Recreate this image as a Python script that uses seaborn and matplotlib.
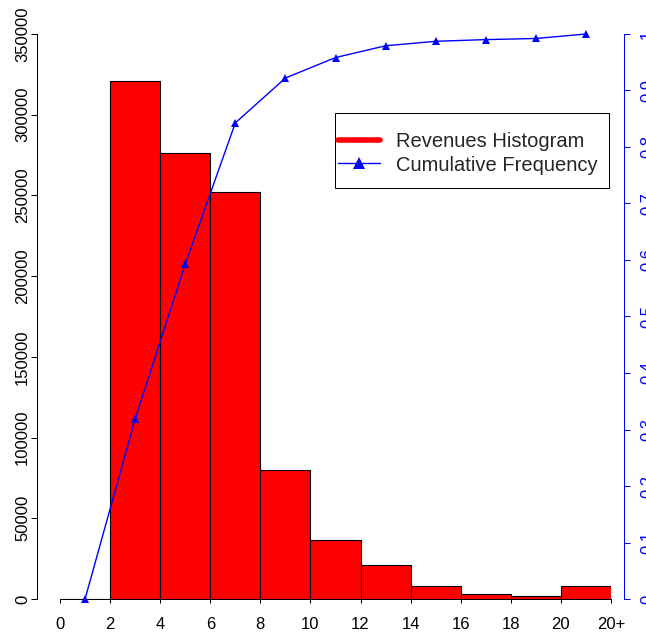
import numpy as np
import pandas as pd
import matplotlib
matplotlib.use("Agg")
import matplotlib.pyplot as plt
import seaborn as sns
from matplotlib.lines import Line2D
from matplotlib.patches import Rectangle

# Revenue totals per 2-unit bin (last bin is the open "20+" bin)
bin_edges = [0, 2, 4, 6, 8, 10, 12, 14, 16, 18, 20, 22]
bin_centers = [1, 3, 5, 7, 9, 11, 13, 15, 17, 19, 21]
revenues = [0, 321000, 276000, 252000, 80000, 36500, 21000, 8000, 3000, 2000, 8000]
x_tick_labels = ["0", "2", "4", "6", "8", "10", "12", "14", "16", "18", "20", "20+"]
left_ticks = [0, 50000, 100000, 150000, 200000, 250000, 300000, 350000]
right_ticks = [0, 0.1, 0.2, 0.3, 0.4, 0.5, 0.6, 0.7, 0.8, 0.9, 1]
right_labels = ["0", "0.1", "0.2", "0.3", "0.4", "0.5", "0.6", "0.7", "0.8", "0.9", "1"]

df = pd.DataFrame({"bin": bin_centers, "revenue": revenues})
df["cumfreq"] = df["revenue"].cumsum() / df["revenue"].sum()

sns.set_style("ticks")
plt.rcParams["font.family"] = ["Liberation Sans", "DejaVu Sans"]

W, H = 646, 636
fig = plt.figure(figsize=(W / 100, H / 100), dpi=100)
px = 72 / 100  # points per pixel

ax = fig.add_axes([60 / W, 37 / H, 551 / W, 565 / H])

sns.histplot(data=df, x="bin", weights="revenue", bins=bin_edges,
             color="#FF0000", edgecolor="black", linewidth=0.8,
             alpha=1, ax=ax)
ax.set_xlim(0, 22)
ax.set_ylim(0, 350000)
ax.set_xlabel("")
ax.set_ylabel("")

ax.set_xticks(bin_edges)
ax.set_xticklabels(x_tick_labels)
ax.set_yticks(left_ticks)
ax.set_yticklabels([str(v) for v in left_ticks])

for side in ("top", "right"):
    ax.spines[side].set_visible(False)
ax.spines["left"].set_position(("outward", 23 * px))
ax.spines["left"].set_bounds(0, 350000)
ax.spines["bottom"].set_bounds(0, 22)
for side in ("left", "bottom"):
    ax.spines[side].set_linewidth(1.0 * px)
    ax.spines[side].set_color("black")

ax.tick_params(axis="x", length=4 * px, width=1.0 * px, pad=14 * px,
               labelsize=12, colors="black")
ax.tick_params(axis="y", length=6 * px, width=1.0 * px, pad=1 * px,
               labelsize=12, colors="black", labelrotation=90)

# Cumulative share on a secondary axis
ax2 = ax.twinx()
ax2.set_position(ax.get_position())
sns.lineplot(data=df, x="bin", y="cumfreq", color="#0000FF", linewidth=1.0,
             marker="^", markersize=6, markeredgewidth=0, ax=ax2,
             clip_on=False)
ax2.set_ylim(0, 1)
ax2.set_xlim(0, 22)
ax2.set_xlabel("")
ax2.set_ylabel("")
ax2.set_yticks(right_ticks)
ax2.set_yticklabels(right_labels)
for side in ("top", "left", "bottom"):
    ax2.spines[side].set_visible(False)
ax2.spines["right"].set_position(("outward", 13 * px))
ax2.spines["right"].set_bounds(0, 1)
ax2.spines["right"].set_color("#0000FF")
ax2.spines["right"].set_linewidth(1.0 * px)
ax2.tick_params(axis="y", length=6 * px, width=1.0 * px, pad=10 * px,
                labelsize=12, colors="#0000FF", labelrotation=90)

for lab in ax.get_yticklabels() + ax2.get_yticklabels():
    lab.set_verticalalignment("center")

# Legend: boxed frame drawn separately, entries placed inside it
box_x0, box_y0, box_x1, box_y1 = 335, 113, 609, 188
fig.patches.append(Rectangle((box_x0 / W, 1 - box_y1 / H),
                             (box_x1 - box_x0) / W, (box_y1 - box_y0) / H,
                             transform=fig.transFigure, facecolor="white",
                             edgecolor="black", linewidth=1.0 * px,
                             zorder=5))
handles = [
    Line2D([], [], color="#FF0000", linewidth=4.0, solid_capstyle="round"),
    Line2D([], [], color="#0000FF", linewidth=1.0, marker="^",
           markersize=8, markeredgewidth=0),
]
leg = fig.legend(handles, ["Revenues Histogram", "Cumulative Frequency"],
                 loc="center left", bbox_to_anchor=(338 / W, 1 - 153.5 / H),
                 bbox_transform=fig.transFigure, borderaxespad=0,
                 frameon=False, fontsize=14.5, handlelength=2.1,
                 handletextpad=0.8, labelspacing=0.2, borderpad=0)
leg.set_zorder(6)

fig.savefig("out.png", dpi=100)
